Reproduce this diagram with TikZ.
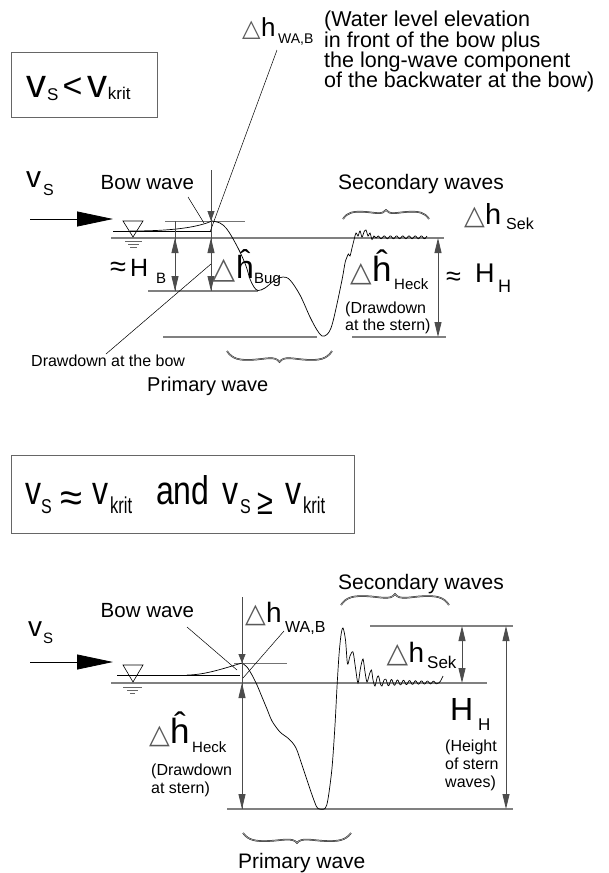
\documentclass[tikz,border=0pt]{standalone}
\usepackage{fontspec}
\usepackage{graphicx}
\setmainfont{Liberation Sans}
\newfontfamily\djv{DejaVu Sans}
\usetikzlibrary{arrows.meta}
\newcommand\fs[1]{\fontsize{#1pt}{#1pt}\selectfont}
\newcommand\tri[1]{{\djv\fs{#1}\textcolor{black!65}{△}}}
\newcommand\sq[1]{\scalebox{0.8}[1]{#1}}
\newcommand\pc[2]{\makebox[#1pt][l]{#2}}
\tikzset{
  arrb/.tip={Triangle[length=15pt,width=7pt]},
  arrs/.tip={Triangle[length=10pt,width=7pt]},
  arrbig/.tip={Triangle[length=36pt,width=15pt]},
  lbl/.style={inner sep=0pt, anchor=base west},
  lvl/.style={draw=black!50, line width=1.2pt},
  lvlthin/.style={draw=black!55, line width=0.8pt},
  dim/.style={draw=black!70, line width=0.8pt},
  lead/.style={draw=black, line width=0.5pt},
  prof/.style={draw=black, line width=0.7pt},
  boxst/.style={draw=black!60, line width=0.9pt},
  bracest/.style={draw=black!85, double=black!35, double distance=0.6pt, line width=0.5pt},
  wbrace/.pic={\draw[bracest] (0,0) .. controls (0.05,0.75) and (0.12,0.85) .. (0.24,0.8) .. controls (0.36,0.75) and (0.46,0.4) .. (0.5,1) .. controls (0.54,0.4) and (0.64,0.75) .. (0.76,0.8) .. controls (0.88,0.85) and (0.95,0.75) .. (1,0);}
}
\begin{document}
\begin{tikzpicture}[x=1pt,y=-1pt]
\useasboundingbox (0,0) rectangle (608,873);

% ================= TOP DIAGRAM =================
\draw[boxst] (11,52) rectangle (157,117);
\node[lbl] (cond1) at (26,97) {\pc{21}{\fs{40}v}\raisebox{-3pt}{\fs{17}S}\hspace{4pt}\fs{34}<\hspace{5.5pt}\fs{40}v\raisebox{-2pt}{\fs{17}krit}};

\node[lbl] (wa1) at (324,26) {\fs{21.5}(Water level elevation};
\node[lbl] (wa2) at (324,47) {\fs{21.5}in front of the bow plus};
\node[lbl] (wa3) at (324,67) {\fs{21.5}the long-wave component};
\node[lbl] (wa4) at (324,87) {\fs{21.5}of the backwater at the bow)};

\node[lbl] (dhwa1) at (242,36) {\pc{19}{\tri{24}}\pc{17}{\fs{26}h}\raisebox{-7pt}{\fs{14}WA,B}};

\node[lbl] (vs1) at (26,187) {\pc{17}{\fs{30}v}\raisebox{-8pt}{\fs{16}S}};
\coordinate (ar1s) at (30,219);
\coordinate (ar1e) at (113,219);
\draw[line width=0.8pt,-{arrbig}] (ar1s) -- (ar1e);

\node[lbl] (bw1) at (100.5,189) {\fs{20.5}Bow wave};
\node[lbl] (sw1) at (338,189) {\fs{21}Secondary waves};

% level lines
\draw[lvl] (111,238) -- (444,238);
\draw[lvlthin] (165,221) -- (245,221);
\draw[lvl] (148,291) -- (258,291);
\draw[lvl] (163,337) -- (317,337);
\draw[lvl] (352,337) -- (446,337);
\draw[prof] (113,231) -- (211,231);

% water symbol
\draw[line width=0.6pt] (123,221) -- (143,221) -- (133,237) -- cycle;
\draw[draw=black!60,line width=0.7pt] (125,241.5) -- (142,241.5) (128,244.5) -- (139,244.5) (130,247.5) -- (137,247.5);

% profile
\draw[prof] (130,231) .. controls (175,231) and (198,227) .. (212,221);
\draw[prof] plot[smooth, tension=0.55] coordinates {(212,221) (220,223) (226,228) (232,237) (240,252) (246,266) (250,279) (254,287) (258,290.5) (265,288) (275,280) (283,277) (290,280) (300,295) (310,317) (317,330) (322,336) (327,334.5) (331,328) (335,313) (342,280) (345,263) (347,257) (348.5,254) (350,256) (352,248) (354,240) (356,233) (358,236) (360,231) (362,237) (364,232) (366,230) (368,236) (370,233) (372,239.5) (374,236) (376,238) (378,236)};
\draw[prof] plot[domain=378:427, samples=100, smooth] (\x,{237.3 - 1.4*cos(deg((\x-378)*2*pi/6.2))});

% dimension lines
\draw[dim] (175,221) -- (175,291);
\draw[dim,{arrb}-{arrb}] (175,238) -- (175,291);
\draw[dim] (211,170) -- (211,291);
\draw[dim,-{arrs}] (211,195) -- (211,221);
\draw[dim,{arrb}-{arrb}] (211,238) -- (211,291);
\draw[dim,{arrb}-{arrb}] (438,238) -- (438,337);

% leaders
\coordinate (ld1a) at (277,50);
\coordinate (ld1b) at (210,232);
\draw[lead] (ld1a) -- (ld1b);
\coordinate (ld2a) at (188,197);
\coordinate (ld2b) at (204,223);
\draw[lead] (ld2a) -- (ld2b);
\coordinate (ld3a) at (211,264);
\coordinate (ld3b) at (106,354);
\draw[lead] (ld3a) -- (ld3b);

% labels
\node[lbl] (hb1) at (110,276) {\pc{20}{\fs{29}≈}\pc{26}{\fs{25}H}\raisebox{-7pt}{\fs{15}B}};
\node[lbl] (bug1) at (212.5,278) {\pc{23.5}{\tri{30}}\pc{18}{\fs{32}ĥ}\raisebox{-5pt}{\fs{15}Bug}};
\node[lbl] (heck1) at (350,281) {\pc{22}{\tri{28}}\pc{22}{\fs{35}ĥ}\raisebox{-8pt}{\fs{15}Heck}};
\node[lbl] (hh1) at (446,282) {\pc{29}{\raisebox{-3pt}{\fs{27}≈}}\pc{23}{\fs{27}H}\raisebox{-10pt}{\fs{18}H}};
\node[lbl] (sek1) at (464,224) {\pc{21}{\tri{27}}\pc{21}{\fs{29}h}\raisebox{-5pt}{\fs{16}Sek}};
\node[lbl] (dd1a) at (345,313) {\fs{16}(Drawdown};
\node[lbl] (dd1b) at (345,330) {\fs{16}at the stern)};
\node[lbl] (ddb) at (31,366) {\fs{16}Drawdown at the bow};
\node[lbl] (pw1) at (147,391) {\fs{20}Primary wave};

\pic[xscale=86, yscale=-9] at (343,219) {wbrace};
\pic[xscale=105, yscale=11] at (227,351) {wbrace};

% ================= BOTTOM DIAGRAM =================
\draw[boxst] (11,455) rectangle (354,533);
\node[lbl] (cond2) at (25,504) {\pc{16}{\sq{\fs{40}v}}\pc{19}{\raisebox{-9pt}{\sq{\fs{20}S}}}\pc{32}{\raisebox{-7pt}{\fs{40}≈}}\pc{18}{\sq{\fs{40}v}}\pc{46}{\raisebox{-9pt}{\scalebox{0.72}[1]{\fs{23}krit}}}\pc{66}{\sq{\fs{40}and}}\pc{18}{\sq{\fs{40}v}}\pc{17}{\raisebox{-9pt}{\sq{\fs{20}S}}}\pc{28}{\raisebox{-10pt}{\sq{\fs{36}≥}}}\pc{18}{\sq{\fs{40}v}}\raisebox{-9pt}{\scalebox{0.72}[1]{\fs{23}krit}}};

\node[lbl] (sw2) at (338,589) {\fs{21}Secondary waves};
\pic[xscale=108, yscale=-11] at (341,605) {wbrace};

\node[lbl] (vs2) at (28,636) {\pc{15}{\fs{28}v}\raisebox{-7pt}{\fs{15}S}};
\coordinate (ar2s) at (30,662);
\coordinate (ar2e) at (113,662);
\draw[line width=0.8pt,-{arrbig}] (ar2s) -- (ar2e);
\node[lbl] (bw2) at (100.5,617) {\fs{20.5}Bow wave};

\draw[lvl] (111,683) -- (487,683);
\draw[lvl] (370,626) -- (513,626);
\draw[lvl] (227,809) -- (513,809);
\draw[lvlthin] (234,663) -- (287,663);
\draw[prof] (117,675) -- (240,675);

\draw[line width=0.6pt] (123,665) -- (143,665) -- (133,682) -- cycle;
\draw[draw=black!60,line width=0.7pt] (123,687) -- (142,687) (127,690) -- (138,690) (130,693) -- (135,693);

\draw[prof] (187,675) .. controls (205,675) and (225,668) .. (242,663);
\draw[prof] plot[smooth, tension=0.5] coordinates {(242,663) (247,667) (252,675) (257,685) (262,697) (267,709) (272,721) (280,732) (289,739) (296,748) (303,768) (310,789) (315,803) (318,808.5) (325,808.5) (328,799) (332,768) (335,725) (337,687) (339,655) (341,635) (343,628) (345.5,640) (347.5,664) (350,656) (353,652) (355.5,668) (358,683) (360.5,668) (363,659) (365,672) (367,682) (369.5,674) (371.5,670) (373,680) (375,686) (377,678) (378.5,676) (380.5,684) (382,686) (384,680) (385.5,679)};
\draw[prof] plot[domain=385.5:437, samples=120, smooth] (\x,{682.5 - (2.5*exp(-(\x-385.5)/25)+1)*cos(deg((\x-385.5)*2*pi/6))});
\draw[prof] (437,683.5) .. controls (440,683.5) and (441,680) .. (443,676);

\draw[dim] (242,597) -- (242,809);
\draw[dim,-{Triangle[length=9pt,width=7pt]}] (242,630) -- (242,663);
\draw[dim,{arrb}-{arrb}] (242,683) -- (242,809);
\draw[dim,{arrb}-{arrb}] (462,626) -- (462,683);
\draw[dim,{arrb}-{arrb}] (506,626) -- (506,809);

\coordinate (ld4a) at (187,627);
\coordinate (ld4b) at (237,670);
\draw[lead] (ld4a) -- (ld4b);
\coordinate (ld5a) at (284,631);
\coordinate (ld5b) at (243,678);
\draw[lead] (ld5a) -- (ld5b);

\node[lbl] (dhwa2) at (245,622) {\pc{21}{\tri{27}}\pc{19}{\fs{28}h}\raisebox{-10pt}{\fs{16}WA,B}};
\node[lbl] (sek2) at (386.5,662) {\pc{22}{\tri{28}}\pc{18.5}{\fs{28}h}\raisebox{-6pt}{\fs{17}Sek}};
\node[lbl] (hh2) at (450,720) {\pc{28}{\fs{32}H}\raisebox{-10pt}{\fs{17}H}};
\node[lbl] (ht1) at (445,751) {\fs{16}(Height};
\node[lbl] (ht2) at (445,769) {\fs{16}of stern};
\node[lbl] (ht3) at (445,787) {\fs{16}waves)};
\node[lbl] (heck2) at (149,743) {\pc{21}{\tri{27}}\pc{22}{\fs{35}ĥ}\raisebox{-9pt}{\fs{15}Heck}};
\node[lbl] (dd2a) at (151,775) {\fs{16}(Drawdown};
\node[lbl] (dd2b) at (151,793) {\fs{16}at stern)};

\pic[xscale=108, yscale=10] at (243,833) {wbrace};
\node[lbl] (pw2) at (238,868) {\fs{21}Primary wave};
\end{tikzpicture}
\end{document}
